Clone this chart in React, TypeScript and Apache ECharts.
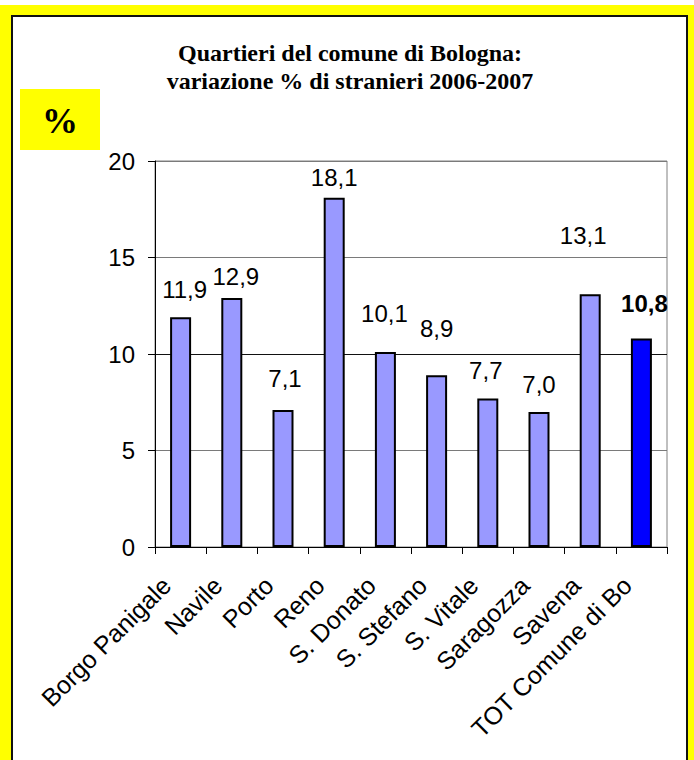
import React, { useEffect, useRef } from 'react';
import * as echarts from 'echarts';

const categories = [
  'Borgo Panigale',
  'Navile',
  'Porto',
  'Reno',
  'S. Donato',
  'S. Stefano',
  'S. Vitale',
  'Saragozza',
  'Savena',
  'TOT Comune di Bo',
];
const values = [11.9, 12.9, 7.1, 18.1, 10.1, 8.9, 7.7, 7.0, 13.1, 10.8];
const yTicks = [0, 5, 10, 15, 20];
const titleLines = ['Quartieri del comune di Bologna:', 'variazione % di stranieri 2006-2007'];
const unitLabel = '%';
const totalIndex = 9;

// styling: manual nudges of the value labels (px), as placed in the original
const labelNudges: number[][] = [
  [4, -16], [4, -10], [2, -19], [0, -8], [-1, -27],
  [0, -35], [-2, -16], [0, -15], [-7, -47], [3, -23],
];

const SANS = '"Liberation Sans", Arial, sans-serif';
const SERIF = '"Liberation Serif", "Times New Roman", serif';

const fmt = (v: number) => v.toFixed(1).replace('.', ',');

export default function App() {
  const ref = useRef<HTMLDivElement>(null);
  useEffect(() => {
    if (!ref.current) return;
    const chart = echarts.init(ref.current, undefined, { renderer: 'svg' });
    const option: any = {
      animation: false,
      backgroundColor: '#ffffff',
      title: {
        text: titleLines.join('\n'),
        left: 350,
        top: 39,
        textAlign: 'center',
        padding: 0,
        textStyle: {
          fontFamily: SERIF,
          fontWeight: 'bold',
          fontSize: 24,
          lineHeight: 28,
          color: '#000',
        },
      },
      graphic: [
        {
          type: 'rect',
          z: -100,
          shape: { x: 0, y: 5, width: 694, height: 800 },
          style: { fill: '#FFFF00' },
          silent: true,
        },
        {
          type: 'rect',
          z: -99,
          shape: { x: 12, y: 16, width: 675, height: 800 },
          style: { fill: '#ffffff', stroke: '#111', lineWidth: 2 },
          silent: true,
        },
        {
          type: 'rect',
          z: 10,
          shape: { x: 20, y: 89, width: 80, height: 61 },
          style: { fill: '#FFFF00' },
          silent: true,
        },
        {
          type: 'text',
          z: 11,
          x: 60,
          y: 121,
          style: {
            text: unitLabel,
            fontFamily: SERIF,
            fontWeight: 'bold',
            fontSize: 36,
            fill: '#000',
            align: 'center',
            verticalAlign: 'middle',
          },
          silent: true,
        },
      ],
      grid: {
        left: 155,
        right: 27,
        top: 161,
        bottom: 213,
        show: true,
        borderColor: '#808080',
        borderWidth: 1,
        backgroundColor: 'transparent',
      },
      xAxis: {
        type: 'category',
        data: categories,
        boundaryGap: true,
        axisLine: { show: true, lineStyle: { color: '#000', width: 1 } },
        axisTick: { show: true, length: 7, alignWithLabel: false, interval: 0, lineStyle: { color: '#000' } },
        axisLabel: {
          interval: 0,
          rotate: 45,
          margin: 20,
          padding: [0, 20, 0, 0],
          fontSize: 25,
          fontFamily: SANS,
          color: '#000',
        },
        splitLine: { show: false },
      },
      yAxis: {
        type: 'value',
        min: yTicks[0],
        max: yTicks[yTicks.length - 1],
        interval: yTicks[1] - yTicks[0],
        axisLine: { show: true, lineStyle: { color: '#000', width: 1 } },
        axisTick: { show: true, length: 7, inside: false, lineStyle: { color: '#000' } },
        axisLabel: {
          margin: 20,
          fontSize: 24,
          fontFamily: SANS,
          color: '#000',
        },
        splitLine: {
          show: true,
          lineStyle: { color: ['#000', '#7a7a7a', '#111', '#7a7a7a', '#7a7a7a'], width: 1 },
        },
      },
      series: [
        {
          type: 'bar',
          barWidth: 21,
          data: values.map((v, i) => ({
            value: v,
            itemStyle: {
              color: i === totalIndex ? '#0000FF' : '#9999FF',
              borderColor: '#000',
              borderWidth: 2,
            },
            label: {
              offset: labelNudges[i],
              fontWeight: i === totalIndex ? 'bold' : 'normal',
            },
          })),
          label: {
            show: true,
            position: 'top',
            distance: 0,
            fontSize: 24,
            fontFamily: SANS,
            color: '#000',
            formatter: (p: any) => fmt(p.value),
          },
        },
      ],
    };
    chart.setOption(option);
    return () => chart.dispose();
  }, []);
  return (
    <div
      ref={ref}
      style={{ position: 'absolute', left: 0, top: 0, width: 694, height: 760 }}
    />
  );
}
